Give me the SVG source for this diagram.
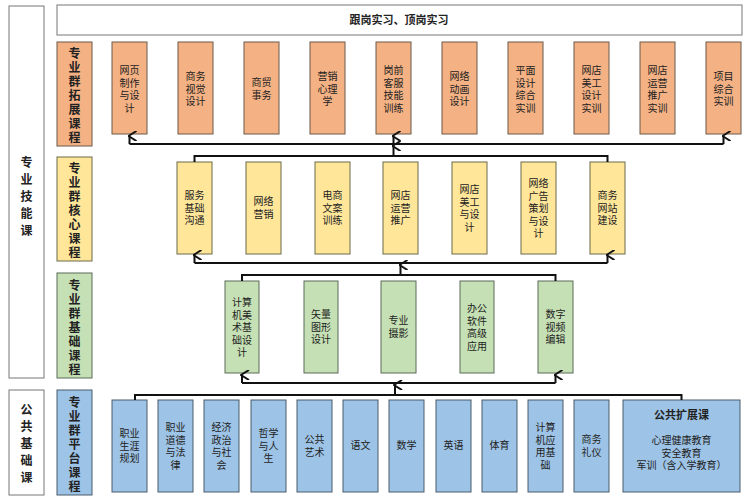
<svg xmlns="http://www.w3.org/2000/svg" width="752" height="500" viewBox="0 0 752 500">
<defs>
<style>
text{font-family:"Noto Sans CJK SC","Liberation Sans",sans-serif;fill:#222;text-anchor:middle}
.t{font-size:10px}
.l{font-size:12px;font-weight:bold}
.o{fill:#F4B183;stroke:#6b5a4a;stroke-width:1}
.y{fill:#FFE699;stroke:#6b6a4a;stroke-width:1}
.g{fill:#C5E0B4;stroke:#5a6b5a;stroke-width:1}
.b{fill:#9DC3E6;stroke:#4a5a6b;stroke-width:1}
.w{fill:#fff;stroke:#777;stroke-width:1}
.c{fill:none;stroke:#111;stroke-width:2}
</style>
<marker id="a" viewBox="0 0 10 10" refX="5" refY="2" markerWidth="5" markerHeight="5" orient="auto-start-reverse"><path d="M0,9 L5,1 L10,9" fill="none" stroke="#111" stroke-width="2"/></marker>
</defs>
<g id="side1"><rect class="w" x="9" y="6" width="35" height="372"/><text class="l" x="26.5"><tspan x="26.5" y="167">专</tspan><tspan x="26.5" y="184">业</tspan><tspan x="26.5" y="201">技</tspan><tspan x="26.5" y="218">能</tspan><tspan x="26.5" y="235">课</tspan></text></g>
<g id="side2"><rect class="w" x="9" y="390" width="35" height="105"/><text class="l"><tspan x="26.5" y="414">公</tspan><tspan x="26.5" y="431">共</tspan><tspan x="26.5" y="448">基</tspan><tspan x="26.5" y="465">础</tspan><tspan x="26.5" y="482">课</tspan></text></g>
<g id="top"><rect class="w" x="57" y="5" width="685" height="30"/><text class="l" x="399" y="24" style="font-size:11px">跟岗实习、顶岗实习</text></g>
<g id="lab1"><rect class="o" x="57" y="42" width="35" height="104"/><text class="l"><tspan x="74.5" y="58">专</tspan><tspan x="74.5" y="72">业</tspan><tspan x="74.5" y="86">群</tspan><tspan x="74.5" y="100">拓</tspan><tspan x="74.5" y="114">展</tspan><tspan x="74.5" y="128">课</tspan><tspan x="74.5" y="142">程</tspan></text></g>
<g id="lab2"><rect class="y" x="57" y="157" width="35" height="104"/><text class="l"><tspan x="74.5" y="173">专</tspan><tspan x="74.5" y="187">业</tspan><tspan x="74.5" y="201">群</tspan><tspan x="74.5" y="215">核</tspan><tspan x="74.5" y="229">心</tspan><tspan x="74.5" y="243">课</tspan><tspan x="74.5" y="257">程</tspan></text></g>
<g id="lab3"><rect class="g" x="57" y="273" width="35" height="105"/><text class="l"><tspan x="74.5" y="290">专</tspan><tspan x="74.5" y="304">业</tspan><tspan x="74.5" y="318">群</tspan><tspan x="74.5" y="332">基</tspan><tspan x="74.5" y="346">础</tspan><tspan x="74.5" y="360">课</tspan><tspan x="74.5" y="374">程</tspan></text></g>
<g id="lab4"><rect class="b" x="57" y="390" width="35" height="105"/><text class="l"><tspan x="74.5" y="407">专</tspan><tspan x="74.5" y="421">业</tspan><tspan x="74.5" y="435">群</tspan><tspan x="74.5" y="449">平</tspan><tspan x="74.5" y="463">台</tspan><tspan x="74.5" y="477">课</tspan><tspan x="74.5" y="491">程</tspan></text></g>

<g id="r1">
<g id="r1a"><rect class="o" x="112" y="42" width="35" height="92"/><text class="t"><tspan x="129.5" y="74">网页</tspan><tspan x="129.5" y="86.5">制作</tspan><tspan x="129.5" y="99">与设</tspan><tspan x="129.5" y="111.5">计</tspan></text></g>
<g id="r1b"><rect class="o" x="178" y="42" width="35" height="92"/><text class="t"><tspan x="195.5" y="80">商务</tspan><tspan x="195.5" y="92.5">视觉</tspan><tspan x="195.5" y="105">设计</tspan></text></g>
<g id="r1c"><rect class="o" x="244" y="42" width="35" height="92"/><text class="t"><tspan x="261.5" y="86">商贸</tspan><tspan x="261.5" y="98.5">事务</tspan></text></g>
<g id="r1d"><rect class="o" x="310" y="42" width="35" height="92"/><text class="t"><tspan x="327.5" y="80">营销</tspan><tspan x="327.5" y="92.5">心理</tspan><tspan x="327.5" y="105">学</tspan></text></g>
<g id="r1e"><rect class="o" x="376" y="42" width="35" height="92"/><text class="t"><tspan x="393.5" y="74">岗前</tspan><tspan x="393.5" y="86.5">客服</tspan><tspan x="393.5" y="99">技能</tspan><tspan x="393.5" y="111.5">训练</tspan></text></g>
<g id="r1f"><rect class="o" x="442" y="42" width="35" height="92"/><text class="t"><tspan x="459.5" y="80">网络</tspan><tspan x="459.5" y="92.5">动画</tspan><tspan x="459.5" y="105">设计</tspan></text></g>
<g id="r1g"><rect class="o" x="508" y="42" width="35" height="92"/><text class="t"><tspan x="525.5" y="74">平面</tspan><tspan x="525.5" y="86.5">设计</tspan><tspan x="525.5" y="99">综合</tspan><tspan x="525.5" y="111.5">实训</tspan></text></g>
<g id="r1h"><rect class="o" x="574" y="42" width="35" height="92"/><text class="t"><tspan x="591.5" y="74">网店</tspan><tspan x="591.5" y="86.5">美工</tspan><tspan x="591.5" y="99">设计</tspan><tspan x="591.5" y="111.5">实训</tspan></text></g>
<g id="r1i"><rect class="o" x="640" y="42" width="35" height="92"/><text class="t"><tspan x="657.5" y="74">网店</tspan><tspan x="657.5" y="86.5">运营</tspan><tspan x="657.5" y="99">推广</tspan><tspan x="657.5" y="111.5">实训</tspan></text></g>
<g id="r1j"><rect class="o" x="706" y="42" width="35" height="92"/><text class="t"><tspan x="723.5" y="80">项目</tspan><tspan x="723.5" y="92.5">综合</tspan><tspan x="723.5" y="105">实训</tspan></text></g>
</g>

<g id="r2">
<g id="r2a"><rect class="y" x="177" y="162" width="35" height="92"/><text class="t"><tspan x="194.5" y="199">服务</tspan><tspan x="194.5" y="211.5">基础</tspan><tspan x="194.5" y="224">沟通</tspan></text></g>
<g id="r2b"><rect class="y" x="246" y="162" width="35" height="92"/><text class="t"><tspan x="263.5" y="205">网络</tspan><tspan x="263.5" y="217.5">营销</tspan></text></g>
<g id="r2c"><rect class="y" x="315" y="162" width="35" height="92"/><text class="t"><tspan x="332.5" y="199">电商</tspan><tspan x="332.5" y="211.5">文案</tspan><tspan x="332.5" y="224">训练</tspan></text></g>
<g id="r2d"><rect class="y" x="383" y="162" width="35" height="92"/><text class="t"><tspan x="400.5" y="199">网店</tspan><tspan x="400.5" y="211.5">运营</tspan><tspan x="400.5" y="224">推广</tspan></text></g>
<g id="r2e"><rect class="y" x="452" y="162" width="35" height="92"/><text class="t"><tspan x="469.5" y="193">网店</tspan><tspan x="469.5" y="205.5">美工</tspan><tspan x="469.5" y="218">与设</tspan><tspan x="469.5" y="230.5">计</tspan></text></g>
<g id="r2f"><rect class="y" x="521" y="162" width="35" height="92"/><text class="t"><tspan x="538.5" y="187">网络</tspan><tspan x="538.5" y="199.5">广告</tspan><tspan x="538.5" y="212">策划</tspan><tspan x="538.5" y="224.5">与设</tspan><tspan x="538.5" y="237">计</tspan></text></g>
<g id="r2g"><rect class="y" x="590" y="162" width="35" height="92"/><text class="t"><tspan x="607.5" y="199">商务</tspan><tspan x="607.5" y="211.5">网站</tspan><tspan x="607.5" y="224">建设</tspan></text></g>
</g>

<g id="r3">
<g id="r3a"><rect class="g" x="225" y="281" width="34" height="92"/><text class="t"><tspan x="242" y="306">计算</tspan><tspan x="242" y="318.5">机美</tspan><tspan x="242" y="331">术基</tspan><tspan x="242" y="343.5">础设</tspan><tspan x="242" y="356">计</tspan></text></g>
<g id="r3b"><rect class="g" x="304" y="281" width="34" height="92"/><text class="t"><tspan x="321" y="318">矢量</tspan><tspan x="321" y="330.5">图形</tspan><tspan x="321" y="343">设计</tspan></text></g>
<g id="r3c"><rect class="g" x="381" y="281" width="35" height="92"/><text class="t"><tspan x="398.5" y="324">专业</tspan><tspan x="398.5" y="336.5">摄影</tspan></text></g>
<g id="r3d"><rect class="g" x="460" y="281" width="34" height="92"/><text class="t"><tspan x="477" y="312">办公</tspan><tspan x="477" y="324.5">软件</tspan><tspan x="477" y="337">高级</tspan><tspan x="477" y="349.5">应用</tspan></text></g>
<g id="r3e"><rect class="g" x="538" y="281" width="35" height="92"/><text class="t"><tspan x="555.5" y="318">数字</tspan><tspan x="555.5" y="330.5">视频</tspan><tspan x="555.5" y="343">编辑</tspan></text></g>
</g>

<g id="r4">
<g id="r4a"><rect class="b" x="112" y="400" width="35" height="92"/><text class="t"><tspan x="129.5" y="437">职业</tspan><tspan x="129.5" y="449.5">生涯</tspan><tspan x="129.5" y="462">规划</tspan></text></g>
<g id="r4b"><rect class="b" x="158" y="400" width="35" height="92"/><text class="t"><tspan x="175.5" y="431">职业</tspan><tspan x="175.5" y="443.5">道德</tspan><tspan x="175.5" y="456">与法</tspan><tspan x="175.5" y="468.5">律</tspan></text></g>
<g id="r4c"><rect class="b" x="204" y="400" width="35" height="92"/><text class="t"><tspan x="221.5" y="431">经济</tspan><tspan x="221.5" y="443.5">政治</tspan><tspan x="221.5" y="456">与社</tspan><tspan x="221.5" y="468.5">会</tspan></text></g>
<g id="r4d"><rect class="b" x="251" y="400" width="35" height="92"/><text class="t"><tspan x="268.5" y="437">哲学</tspan><tspan x="268.5" y="449.5">与人</tspan><tspan x="268.5" y="462">生</tspan></text></g>
<g id="r4e"><rect class="b" x="297" y="400" width="35" height="92"/><text class="t"><tspan x="314.5" y="443">公共</tspan><tspan x="314.5" y="455.5">艺术</tspan></text></g>
<g id="r4f"><rect class="b" x="343" y="400" width="35" height="92"/><text class="t" x="360.5" y="449">语文</text></g>
<g id="r4g"><rect class="b" x="389" y="400" width="35" height="92"/><text class="t" x="406.5" y="449">数学</text></g>
<g id="r4h"><rect class="b" x="436" y="400" width="35" height="92"/><text class="t" x="453.5" y="449">英语</text></g>
<g id="r4i"><rect class="b" x="482" y="400" width="35" height="92"/><text class="t" x="499.5" y="449">体育</text></g>
<g id="r4j"><rect class="b" x="528" y="400" width="35" height="92"/><text class="t"><tspan x="545.5" y="431">计算</tspan><tspan x="545.5" y="443.5">机应</tspan><tspan x="545.5" y="456">用基</tspan><tspan x="545.5" y="468.5">础</tspan></text></g>
<g id="r4k"><rect class="b" x="574" y="400" width="35" height="92"/><text class="t"><tspan x="591.5" y="443">商务</tspan><tspan x="591.5" y="455.5">礼仪</tspan></text></g>
<g id="r4l"><rect class="b" x="623" y="400" width="117" height="92"/><text class="t" style="font-weight:bold;font-size:11px" x="681.5" y="419">公共扩展课</text><text class="t"><tspan x="681.5" y="444">心理健康教育</tspan><tspan x="681.5" y="456.5">安全教育</tspan><tspan x="681.5" y="469">军训（含入学教育）</tspan></text></g>
</g>

<g id="connectors" class="c">
<path d="M129.5,144 H723.5"/>
<path d="M129.5,144 V136" marker-end="url(#a)"/>
<path d="M393.5,144 V136" marker-end="url(#a)"/>
<path d="M723.5,144 V136" marker-end="url(#a)"/>
<path d="M194.5,162 V156 H607.5 V162"/>
<path d="M393.5,156 V146" marker-end="url(#a)"/>
<path d="M194.5,263 H607.5"/>
<path d="M194.5,263 V255" marker-end="url(#a)"/>
<path d="M607.5,263 V255" marker-end="url(#a)"/>
<path d="M242,281 V275 H555.5 V281"/>
<path d="M400.5,275 V265" marker-end="url(#a)"/>
<path d="M242,383 H555.5"/>
<path d="M242,383 V375" marker-end="url(#a)"/>
<path d="M555.5,383 V375" marker-end="url(#a)"/>
<path d="M135,400 V395 H681.5 V400"/>
<path d="M395,395 V385" marker-end="url(#a)"/>
</g>
</svg>
